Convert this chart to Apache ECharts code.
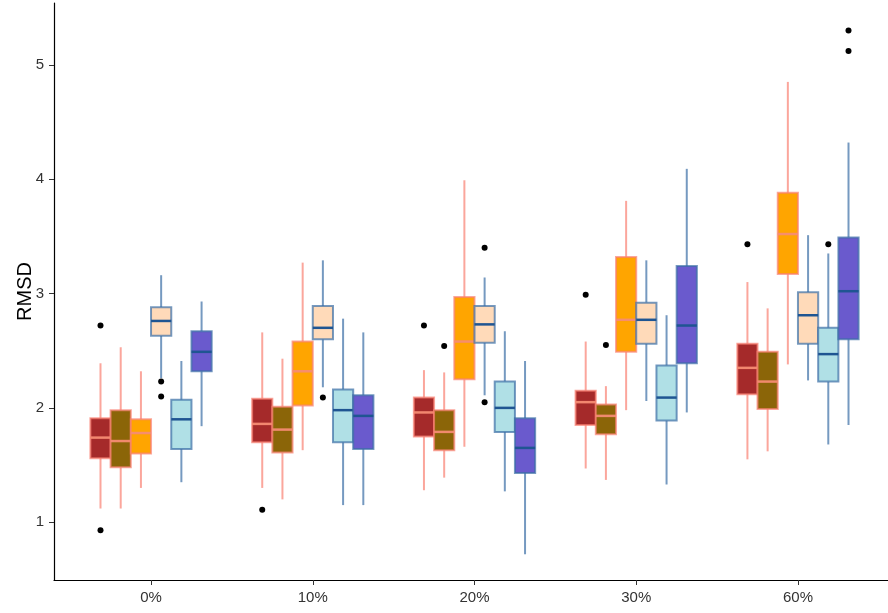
<!DOCTYPE html>
<html>
<head>
<meta charset="utf-8">
<script src="https://cdn.jsdelivr.net/npm/echarts@6/dist/echarts.min.js"></script>
<style>
  html, body { margin: 0; padding: 0; background: #fff; }
  #chart { width: 888px; height: 613px; }
</style>
</head>
<body>
<div id="chart"></div>
<script>
// Categories along the x axis
const categories = ['0%', '10%', '20%', '30%', '60%'];
const yTicks = [1, 2, 3, 4, 5];

// Five-number summaries per category: [lower whisker, Q1, median, Q3, upper whisker]
const firebrickStats = [
  [1.12, 1.56, 1.74, 1.91, 2.39],
  [1.30, 1.70, 1.86, 2.08, 2.66],
  [1.28, 1.75, 1.96, 2.09, 2.33],
  [1.47, 1.85, 2.05, 2.15, 2.58],
  [1.55, 2.12, 2.35, 2.56, 3.10]
];
const oliveStats = [
  [1.12, 1.48, 1.71, 1.98, 2.53],
  [1.20, 1.61, 1.81, 2.01, 2.43],
  [1.39, 1.63, 1.79, 1.98, 2.31],
  [1.37, 1.77, 1.93, 2.03, 2.19],
  [1.62, 1.99, 2.23, 2.49, 2.87]
];
const orangeStats = [
  [1.30, 1.60, 1.78, 1.90, 2.32],
  [1.63, 2.02, 2.32, 2.58, 3.27],
  [1.66, 2.25, 2.58, 2.97, 3.99],
  [1.98, 2.49, 2.77, 3.32, 3.81],
  [2.38, 3.17, 3.52, 3.88, 4.85]
];
const peachStats = [
  [2.26, 2.63, 2.76, 2.88, 3.16],
  [2.18, 2.60, 2.70, 2.89, 3.29],
  [2.11, 2.57, 2.73, 2.89, 3.14],
  [2.06, 2.56, 2.77, 2.92, 3.29],
  [2.24, 2.56, 2.81, 3.01, 3.51]
];
const powderStats = [
  [1.35, 1.64, 1.90, 2.07, 2.41],
  [1.15, 1.70, 1.98, 2.16, 2.78],
  [1.27, 1.79, 2.00, 2.23, 2.67],
  [1.33, 1.89, 2.09, 2.37, 2.81],
  [1.68, 2.23, 2.47, 2.70, 3.35]
];
const slateStats = [
  [1.84, 2.32, 2.49, 2.67, 2.93],
  [1.15, 1.64, 1.93, 2.11, 2.66],
  [0.72, 1.43, 1.65, 1.91, 2.41],
  [1.96, 2.39, 2.72, 3.24, 4.09],
  [1.85, 2.60, 3.02, 3.49, 4.32]
];

// Outliers: [category index, value]
const firebrickOutliers = [[0, 2.72], [0, 0.93], [1, 1.11], [2, 2.72], [3, 2.99], [4, 3.43]];
const oliveOutliers = [[2, 2.54], [3, 2.55]];
const orangeOutliers = [];
const peachOutliers = [[0, 2.23], [0, 2.10], [1, 2.09], [2, 3.40], [2, 2.05]];
const powderOutliers = [[4, 3.43]];
const slateOutliers = [[4, 5.30], [4, 5.12]];

const warmLine = 'rgba(250, 128, 114, 0.7)';
const warmMedian = 'rgba(246, 140, 115, 0.95)';
const coolLine = 'rgba(58, 110, 165, 0.7)';
const coolMedian = '#1f5592';

const groups = [
  { name: 'firebrick', stats: firebrickStats, outliers: firebrickOutliers, fill: '#a52a2a', line: warmLine, median: warmMedian },
  { name: 'olive', stats: oliveStats, outliers: oliveOutliers, fill: '#8b6508', line: warmLine, median: warmMedian },
  { name: 'orange', stats: orangeStats, outliers: orangeOutliers, fill: '#ffa500', line: warmLine, median: warmMedian },
  { name: 'peach', stats: peachStats, outliers: peachOutliers, fill: '#ffdab9', line: coolLine, median: coolMedian },
  { name: 'powder', stats: powderStats, outliers: powderOutliers, fill: '#b0e0e6', line: coolLine, median: coolMedian },
  { name: 'slate', stats: slateStats, outliers: slateOutliers, fill: '#6a5acd', line: coolLine, median: coolMedian }
];

// Dodge layout: six boxes share 0.75 of each category slot
const dodgeWidth = 0.75;
const boxWidth = dodgeWidth / groups.length;

const series = [];
groups.forEach((g, gi) => {
  const offset = (gi - (groups.length - 1) / 2) * boxWidth;
  series.push({
    type: 'custom',
    name: g.name,
    data: g.stats.map((s, ci) => [ci + 1, s[0], s[1], s[2], s[3], s[4]]),
    encode: { x: 0, y: [1, 2, 3, 4, 5] },
    z: 2,
    renderItem: function (params, api) {
      const x = api.value(0) + offset;
      const lo = api.coord([x, api.value(1)]);
      const q1 = api.coord([x, api.value(2)]);
      const med = api.coord([x, api.value(3)]);
      const q3 = api.coord([x, api.value(4)]);
      const hi = api.coord([x, api.value(5)]);
      const half = api.size([boxWidth, 0])[0] / 2;
      return {
        type: 'group',
        children: [
          { type: 'line', shape: { x1: lo[0], y1: lo[1], x2: q1[0], y2: q1[1] }, style: { stroke: g.line, lineWidth: 2 } },
          { type: 'line', shape: { x1: q3[0], y1: q3[1], x2: hi[0], y2: hi[1] }, style: { stroke: g.line, lineWidth: 2 } },
          { type: 'rect', shape: { x: q3[0] - half, y: q3[1], width: half * 2, height: q1[1] - q3[1] }, style: { fill: g.fill, stroke: g.line, lineWidth: 2 } },
          { type: 'line', shape: { x1: med[0] - half, y1: med[1], x2: med[0] + half, y2: med[1] }, style: { stroke: g.median, lineWidth: 2.5 } }
        ]
      };
    }
  });
  if (g.outliers.length) {
    series.push({
      type: 'scatter',
      name: g.name + ' outliers',
      data: g.outliers.map(o => [o[0] + 1 + offset, o[1]]),
      symbol: 'circle',
      symbolSize: 6,
      itemStyle: { color: '#000', opacity: 1 },
      z: 3
    });
  }
});

const chart = echarts.init(document.getElementById('chart'), null, { renderer: 'canvas' });
chart.setOption({
  animation: false,
  backgroundColor: '#fff',
  grid: { left: 54, right: -7, top: 3, bottom: 33, containLabel: false, outerBoundsMode: 'none' },
  xAxis: {
    type: 'value',
    min: 0.4,
    max: 5.6,
    splitLine: { show: false },
    axisLine: { show: true, lineStyle: { color: '#000', width: 1.2 } },
    axisTick: { show: true, length: 5, lineStyle: { color: '#333' }, customValues: [1, 2, 3, 4, 5] },
    axisLabel: {
      customValues: [1, 2, 3, 4, 5],
      formatter: v => categories[Math.round(v) - 1],
      color: '#333', fontSize: 15, fontFamily: 'Liberation Sans', margin: 10
    }
  },
  yAxis: {
    type: 'value',
    min: 0.495,
    max: 5.54,
    name: 'RMSD',
    nameLocation: 'middle',
    nameGap: 19,
    nameMoveOverlap: false,
    nameTextStyle: { fontSize: 20, color: '#000', fontFamily: 'Liberation Sans' },
    splitLine: { show: false },
    axisLine: { show: true, lineStyle: { color: '#000', width: 1.2 } },
    axisTick: { show: true, length: 5, lineStyle: { color: '#333' }, customValues: yTicks },
    axisLabel: {
      customValues: yTicks,
      color: '#333', fontSize: 15, fontFamily: 'Liberation Sans', margin: 10
    }
  },
  series: series
});
</script>
</body>
</html>
